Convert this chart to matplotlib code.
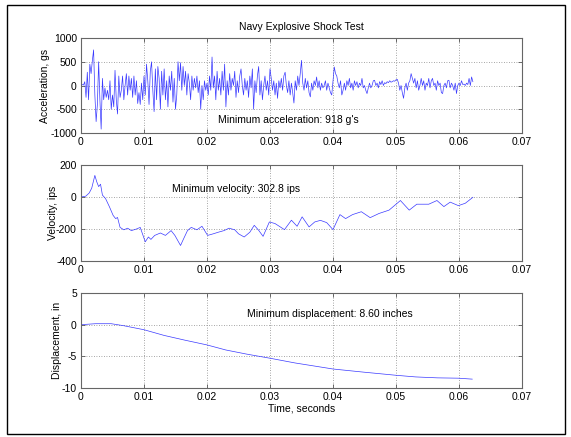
import numpy as np
import matplotlib
matplotlib.use("Agg")
import matplotlib.pyplot as plt
from matplotlib.patches import Rectangle

plt.rcParams['font.family'] = ['Liberation Sans', 'DejaVu Sans']
plt.rcParams['font.size'] = 7.5

# ---------------- data ----------------
dt = 0.0002  # s, acceleration sample spacing
accel = [
    0, 20, 10, 80, -250, 280, -300, 450, 250, 520,
    750, -200, -760, -400, 500, -300, -918, 150, -300, -50,
    -250, -100, -300, 100, -500, -200, -450, 320, -300, -600,
    200, -250, -100, 200, -300, 0, 250, -200, 200, -100,
    150, -250, 200, -200, 100, -380, -150, -400, 50, -300,
    200, -200, 450, 100, -400, 300, 500, -100, -550, 350,
    -300, 400, 150, -500, 300, -200, 350, -300, 100, -450,
    200, -100, 300, -350, 150, -500, -200, 500, 100, 480,
    -100, 400, 0, 300, -200, 250, 50, -300, 200, -100,
    150, -50, 200, -150, 100, -500, 0, -300, 100, -100,
    50, -200, 200, -100, 600, -50, 200, -300, 300, -100,
    150, -200, 300, -100, 450, -450, 100, -200, 250, -100,
    150, 0, 300, -250, 100, -150, 200, 350, 0, -200,
    150, -100, 100, -250, 200, -50, 350, -500, 100, -150,
    200, 400, -200, 100, -300, 0, 200, -100, 100, -200,
    350, 150, -100, 100, -200, 50, -270, 100, -50, 150,
    -100, 200, 280, 0, -150, 100, -200, 50, -150, -370,
    100, -100, 200, 0, 250, 530, 50, -100, 150, -50,
    100, -150, -240, 50, -100, 100, 0, 180, -50, 100,
    -100, 50, -50, 0, 100, -100, 50, -50, -150, -200,
    100, 390, 250, 200, 50, -50, 100, -200, -100, 50,
    -100, 100, 0, 150, -50, 50, -100, 100, 0, 80,
    -50, 50, 0, 150, -50, 0, -100, -170, -50, 50,
    -50, 0, 100, 110, 0, 50, -50, 80, 20, 100,
    0, 60, 40, 80, 60, 100, 70, 80, 100, 90,
    120, 130, 50, -100, 0, -150, -270, -50, 50, -100,
    50, 100, 250, 150, 50, 150, -50, 100, -100, 0,
    150, 0, 100, -100, 50, 0, 150, -50, 100, 150,
    0, 50, -100, 100, 0, 50, -150, -170, 0, 50,
    -50, 100, 110, -50, 50, 0, -100, 50, -170, 0,
    50, 0, 100, 20, 30, 0, 50, 20, 150, 0,
    180, 80,
]

vel_t = [0.0, 0.00075, 0.0013, 0.0017, 0.0022, 0.0025, 0.0028, 0.0031, 0.0034,
         0.0039, 0.0045, 0.0051, 0.0055, 0.0058, 0.0062, 0.0068, 0.0074, 0.0080,
         0.0088, 0.0094, 0.0102, 0.0107, 0.0111, 0.0117, 0.0126, 0.0134, 0.0143,
         0.0149, 0.0158, 0.0163, 0.0169, 0.0175, 0.0184, 0.0192, 0.0201, 0.0210,
         0.0218, 0.0227, 0.0235, 0.0244, 0.0250, 0.0259, 0.0268, 0.0275, 0.0282,
         0.0289, 0.0299, 0.0308, 0.0323, 0.0334, 0.0343, 0.0351, 0.0362, 0.0371,
         0.0380, 0.0390, 0.0400, 0.0411, 0.0420, 0.0431, 0.0445, 0.0459, 0.0473,
         0.0489, 0.0507, 0.0521, 0.0533, 0.0552, 0.0565, 0.0576, 0.0586, 0.0599,
         0.0610, 0.0622]
vel_v = [0, 5, 25, 55, 135, 95, 65, 80, 12,
         -10, -60, -115, -135, -128, -190, -205, -195, -210,
         -200, -190, -280, -250, -265, -240, -225, -240, -210,
         -240, -303, -260, -210, -190, -205, -183, -240, -230,
         -220, -210, -195, -205, -230, -250, -220, -177, -208,
         -246, -156, -166, -204, -145, -183, -124, -187, -156,
         -146, -160, -204, -110, -135, -110, -92, -129, -103,
         -82, -22, -82, -45, -45, -22, -60, -32, -54,
         -39, -2]

disp_t = [0.0, 0.0023, 0.0048, 0.0067, 0.0100, 0.0132, 0.0165, 0.0200, 0.0230,
          0.0263, 0.0300, 0.0340, 0.0400, 0.0449, 0.0501, 0.0531, 0.0566, 0.0599,
          0.0621]
disp_d = [0.0, 0.15, 0.15, -0.15, -0.8, -1.7, -2.45, -3.2, -4.0,
          -4.65, -5.3, -6.05, -7.0, -7.5, -8.0, -8.25, -8.4, -8.45,
          -8.6]

xticks = [0, 0.01, 0.02, 0.03, 0.04, 0.05, 0.06, 0.07]
xticklabels = ['0', '0.01', '0.02', '0.03', '0.04', '0.05', '0.06', '0.07']
acc_yticks = [-1000, -500, 0, 500, 1000]
vel_yticks = [-400, -200, 0, 200]
disp_yticks = [-10, -5, 0, 5]

title = 'Navy Explosive Shock Test'
acc_note = "Minimum acceleration: 918 g's"
vel_note = 'Minimum velocity: 302.8 ips'
disp_note = 'Minimum displacement: 8.60 inches'

# ---------------- figure ----------------
W, H = 571, 437
fig = plt.figure(figsize=(W / 100, H / 100), dpi=100)
fig.patch.set_facecolor('white')
fig.patches.append(Rectangle((7 / W, 1 - 434 / H), 558 / W, 429 / H,
                             transform=fig.transFigure, fill=False,
                             edgecolor='black', linewidth=1.0))

left = 81 / W
width = 441 / W
def fy(top_px, bot_px):
    return [left, 1 - bot_px / H, width, (bot_px - top_px) / H]

ax1 = fig.add_axes(fy(38, 133))
ax2 = fig.add_axes(fy(165, 261))
ax3 = fig.add_axes(fy(293, 388))

line_kw = dict(color='#3a3aff', linewidth=0.5)
t_acc = np.arange(len(accel)) * dt
ax1.plot(t_acc, accel, **line_kw)
ax2.plot(vel_t, vel_v, **line_kw)
ax3.plot(disp_t, disp_d, **line_kw)

for ax, yt, ylim in [(ax1, acc_yticks, (-1000, 1000)),
                     (ax2, vel_yticks, (-400, 200)),
                     (ax3, disp_yticks, (-10, 5))]:
    ax.set_xlim(0, 0.07)
    ax.set_ylim(*ylim)
    ax.set_xticks(xticks)
    ax.set_xticklabels(xticklabels)
    ax.set_yticks(yt)
    ax.set_yticklabels([str(v) for v in yt])
    ax.grid(True, linestyle=(0, (1, 2)), color='#888888', linewidth=0.6)
    ax.tick_params(direction='in', top=True, right=True, length=3,
                   width=0.6, color='#555555', labelsize=7.5, pad=3)
    for s in ax.spines.values():
        s.set_color('#666666')
        s.set_linewidth(0.8)

ax1.set_title(title, fontsize=7.5, pad=6)
ax1.set_ylabel('Acceleration, gs', labelpad=0)
ax2.set_ylabel('Velocity, ips', labelpad=-1.5)
ax3.set_ylabel('Displacement, in', labelpad=0)
ax3.set_xlabel('Time, seconds', labelpad=1)

ax1.text(0.0218, -730, acc_note, ha='left', va='center', fontsize=7.5)
ax2.text(0.0144, 50, vel_note, ha='left', va='center', fontsize=7.5)
ax3.text(0.0264, 1.7, disp_note, ha='left', va='center', fontsize=7.5)

fig.savefig('out.png', dpi=100)
